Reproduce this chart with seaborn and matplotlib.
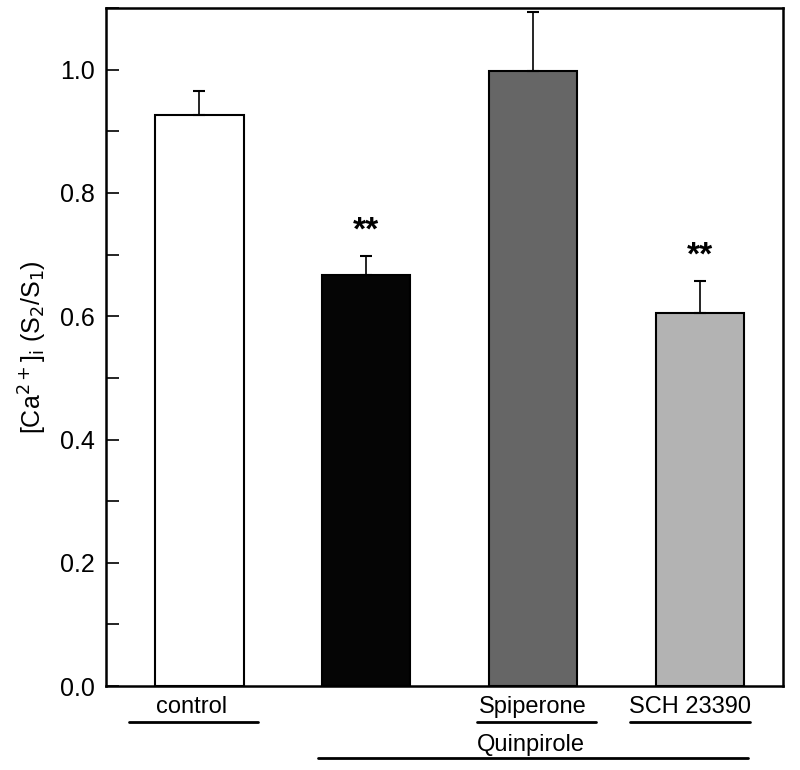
import matplotlib
matplotlib.use("Agg")
import matplotlib.pyplot as plt
import matplotlib.transforms as mtransforms
from matplotlib.ticker import MultipleLocator
import seaborn as sns

# values
groups = ["control", "Quinpirole", "Quinpirole + Spiperone", "Quinpirole + SCH 23390"]
ratio = [0.927, 0.667, 0.997, 0.606]
sem = [0.039, 0.031, 0.096, 0.051]
stars = ["", "**", "", "**"]
bar_colors = ["#ffffff", "#050505", "#666666", "#b3b3b3"]
yticks = [0.0, 0.2, 0.4, 0.6, 0.8, 1.0]

sns.set_style("ticks", {"axes.edgecolor": "black", "text.color": "black",
                        "axes.labelcolor": "black", "ytick.color": "black"})
plt.rcParams["font.family"] = ["Liberation Sans", "DejaVu Sans"]

fig = plt.figure(figsize=(8, 7.7), dpi=100)
ax = fig.add_axes([0.1325, 0.109, 0.8465, 0.8806])

sns.barplot(
    x=groups,
    y=ratio,
    hue=groups,
    palette=bar_colors,
    edgecolor="black",
    linewidth=1.5,
    width=0.53,
    legend=False,
    ax=ax,
)
ax.errorbar(
    range(len(groups)),
    ratio,
    yerr=[[0] * len(sem), sem],
    fmt="none",
    ecolor="black",
    elinewidth=1.2,
    capsize=4,
    capthick=1.5,
)
for i, (v, e, s) in enumerate(zip(ratio, sem, stars)):
    if s:
        ax.text(i, v + e + 0.04, s, ha="center", va="center",
                fontsize=24, fontweight="bold", color="black")

ax.set_yticks(yticks)
ax.set_yticklabels([f"{t:.1f}" for t in yticks])
ax.yaxis.set_minor_locator(MultipleLocator(0.1))
ax.set_xlim(-0.56, 3.5)
ax.set_ylim(0, 1.1)
ax.tick_params(axis="y", which="both", direction="in", length=9, width=1.2,
               labelsize=18, pad=8, color="black", labelcolor="black")
ax.tick_params(axis="x", bottom=False, labelbottom=False)
for sp in ax.spines.values():
    sp.set_linewidth(1.8)
    sp.set_color("black")
    sp.set_visible(True)
ax.set_xlabel("")
ax.set_ylabel(r"[Ca$^{2+}$]$_{\mathrm{i}}$ (S$_2$/S$_1$)", fontsize=18,
              labelpad=8, color="black")

# group labels and underlines below the axis
trans = mtransforms.blended_transform_factory(ax.transData, ax.transAxes)
under = [
    ("control", -0.05, -0.425, 0.353),
    ("Spiperone", 0.0, -0.335, 0.38),
    ("SCH 23390", -0.06, -0.42, 0.3),
]
for (txt, dx, x0, x1), idx in zip(under, [0, 2, 3]):
    ax.text(idx + dx, -0.031, txt, transform=trans, ha="center", va="center",
            fontsize=17, color="black")
    ax.plot([idx + x0, idx + x1], [-0.053, -0.053], transform=trans,
            color="black", lw=2, clip_on=False)
ax.text(1.99, -0.087, "Quinpirole", transform=trans, ha="center", va="center",
        fontsize=17, color="black")
ax.plot([1 - 0.29, 3 + 0.29], [-0.106, -0.106], transform=trans, color="black",
        lw=2, clip_on=False)

plt.savefig("out.png", dpi=100)
plt.close()
